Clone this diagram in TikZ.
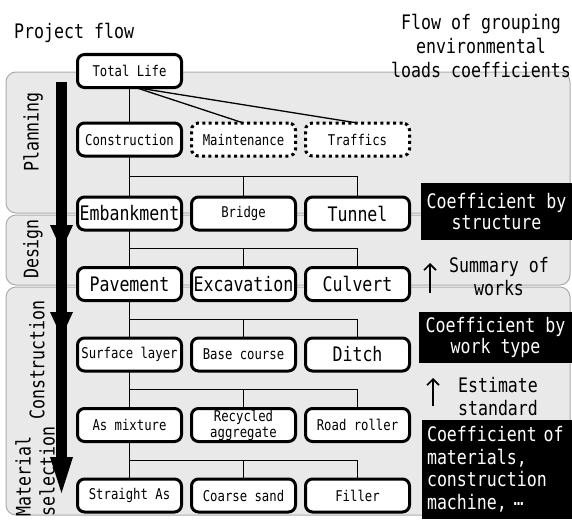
\documentclass[tikz,border=0pt]{standalone}
\usepackage{fontspec}
\setmainfont{DejaVu Sans Mono}[FakeStretch=0.83]
\usetikzlibrary{arrows.meta, positioning, calc}

\newcommand\smallfnt{\fontsize{14.8}{15}\selectfont}
\newcommand\bigfnt{\fontsize{20}{21}\selectfont}

\begin{document}
\begin{tikzpicture}[x=1pt, y=-1pt,
    box/.style={draw, line width=3pt, rounded corners=7pt, fill=white, minimum width=104pt, minimum height=33pt, inner sep=1pt, outer sep=0pt, align=center, font=\smallfnt},
    bigbox/.style={box, font=\bigfnt},
    dotbox/.style={box, dash pattern=on 3pt off 3.4pt},
    panel/.style={draw=gray!65, fill=gray!17, rounded corners=10pt, line width=1pt},
    coef/.style={fill=black, text=white, font=\bigfnt, align=center, inner sep=0pt},
    note/.style={font=\bigfnt, align=center, inner sep=0pt},
    link/.style={line width=1.3pt},
    uparrow/.style={-{Straight Barb[length=6pt, width=12pt]}, line width=1.6pt},
    node distance=37.5pt and 10pt
]
    \useasboundingbox (0,0) rectangle (572,519);

    % Stage panels
    \draw[panel] (6,72) rectangle (570,213);
    \draw[panel] (6,215) rectangle (570,285);
    \draw[panel] (6,287) rectangle (570,515);

    % Project flow arrow
    \fill (56,82) rectangle (67,458);
    \fill (50,225) -- (73,225) -- (61.5,250) -- cycle;
    \fill (50,312) -- (73,312) -- (61.5,337) -- cycle;
    \fill (50,457) -- (73,457) -- (61.5,493) -- cycle;

    % Stage labels
    \node[note, rotate=90] (plan) at (33,132) {Planning};
    \node[note, rotate=90] (desi) at (33,249) {Design};
    \node[note, rotate=90] (cons) at (37,360) {Construction};
    \node[note, rotate=90, anchor=west, align=left, font=\fontsize{20}{24}\selectfont] (mats) at (35,517) {Material\\selection};

    % Titles
    \node[note, anchor=west] (proj) at (14,33) {Project flow};
    \node[note, font=\fontsize{20}{24}\selectfont] (grp) at (481,46) {Flow of grouping\\environmental\\loads coefficients};

    % Tree of works
    \node[box] (tot) at (129.5,71) {Total Life};
    \node[box, below=35.5pt of tot] (con) {Construction};
    \node[dotbox, right=of con] (mai) {Maintenance};
    \node[dotbox, right=of mai] (tra) {Traffics};
    \node[bigbox, below=41pt of con] (emb) {Embankment};
    \node[box, right=of emb] (bri) {Bridge};
    \node[bigbox, right=of bri] (tun) {Tunnel};
    \node[bigbox, below=of emb] (pav) {Pavement};
    \node[bigbox, right=of pav] (exc) {Excavation};
    \node[bigbox, right=of exc] (cul) {Culvert};
    \node[box, below=of pav] (sur) {Surface layer};
    \node[box, right=of sur] (bas) {Base course};
    \node[bigbox, right=of bas] (dit) {Ditch};
    \node[box, below=of sur] (asm) {As mixture};
    \node[box, right=of asm, font=\fontsize{14.8}{16}\selectfont] (rec) {Recycled\\aggregate};
    \node[box, right=of rec] (roa) {Road roller};
    \node[box, below=of asm] (str) {Straight As};
    \node[box, right=of str] (coa) {Coarse sand};
    \node[box, right=of coa] (fil) {Filler};

    % Links
    \draw[link] (tot) -- (con);
    \draw[link] ([xshift=6pt]tot.south) -- (mai.north);
    \draw[link] ([xshift=6pt]tot.south) -- (tra.north);
    \foreach \p/\a/\b/\c in {con/emb/bri/tun, emb/pav/exc/cul, pav/sur/bas/dit, sur/asm/rec/roa, asm/str/coa/fil} {
        \draw[link] (\p) -- (\a);
        \draw[link] ($(\p.south)!0.5!(\a.north)$) -| (\b.north);
        \draw[link] ($(\p.south)!0.5!(\a.north)$) -| (\c.north);
    }

    % Coefficients
    \node[coef, minimum width=151pt, minimum height=57pt] (cstr) at (496.5,211.5) {Coefficient by\\structure};
    \node[coef, minimum width=153pt, minimum height=51pt] (cwrk) at (495.5,337.5) {Coefficient by\\work type};
    \node[coef, minimum width=150pt, minimum height=99pt, align=left, text width=140pt, font=\fontsize{20}{22.5}\selectfont] (cmat) at (497,469.5) {Coefficient of\\materials,\\construction\\machine, \raisebox{.2em}{…}};

    % Summaries
    \node[note, font=\fontsize{20}{23}\selectfont] (summ) at (499,277) {Summary of\\works};
    \node[note, font=\fontsize{20}{23}\selectfont] (esti) at (498,397) {Estimate\\standard};
    \coordinate (sumlo) at (430,293);
    \coordinate (sumhi) at (430,263);
    \coordinate (estlo) at (433,406);
    \coordinate (esthi) at (433,378);
    \draw[uparrow] (sumlo) -- (sumhi);
    \draw[uparrow] (estlo) -- (esthi);
\end{tikzpicture}
\end{document}
